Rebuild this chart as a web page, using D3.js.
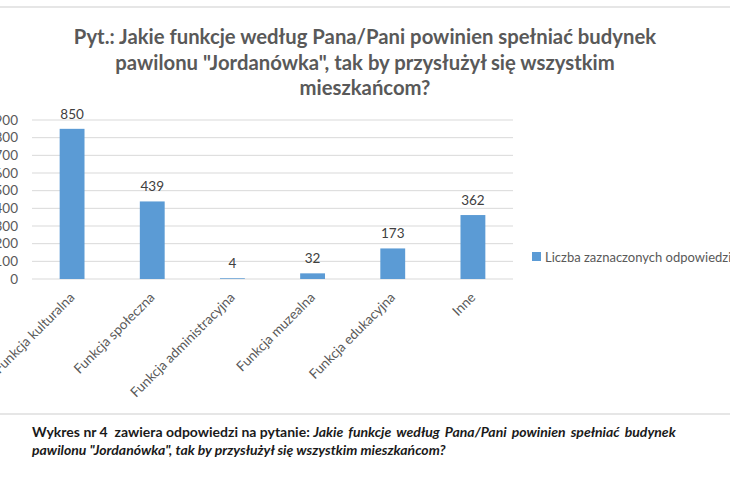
<!DOCTYPE html>
<html>
<head>
<meta charset="utf-8">
<script src="https://cdn.jsdelivr.net/npm/d3@7"></script>
<style>
  body { margin: 0; background: #fff; }
  svg { display: block; }
</style>
</head>
<body>
<div id="chart"></div>
<script>
// data
var categories = ["Funkcja kulturalna", "Funkcja społeczna", "Funkcja administracyjna",
                  "Funkcja muzealna", "Funkcja edukacyjna", "Inne"];
var answers = [850, 439, 4, 32, 173, 362];
var yTicks = [0, 100, 200, 300, 400, 500, 600, 700, 800, 900];
var seriesName = "Liczba zaznaczonych odpowiedzi";
var titleLines = ["Pyt.: Jakie funkcje według Pana/Pani powinien spełniać budynek",
                  "pawilonu \"Jordanówka\", tak by przysłużył się wszystkim",
                  "mieszkańcom?"];

var svgWidth = 730;
var svgHeight = 480;
var plot = { left: 32, right: 513, top: 120, bottom: 279 };
var font = "Lato, 'Open Sans', sans-serif";
var barColor = "#5b9bd5";
var textColor = "#595959";

var svg = d3.select("#chart")
  .append("svg")
  .attr("width", svgWidth)
  .attr("height", svgHeight);

// page separators
svg.append("rect").attr("x", 0).attr("y", 6).attr("width", svgWidth).attr("height", 2).attr("fill", "#e6e6e6");
svg.append("rect").attr("x", 0).attr("y", 413).attr("width", svgWidth).attr("height", 2).attr("fill", "#e6e6e6");

// title
svg.append("g").selectAll("text")
  .data(titleLines)
  .enter()
  .append("text")
  .attr("x", 365)
  .attr("y", (d, i) => 44 + i * 25.5)
  .attr("text-anchor", "middle")
  .attr("font-family", font)
  .attr("font-weight", "bold")
  .attr("font-size", "20.3px")
  .attr("fill", textColor)
  .text(d => d);

// scales
var x = d3.scaleBand()
  .domain(categories)
  .range([plot.left, plot.right])
  .paddingInner(0.69)
  .paddingOuter(0.345);

var y = d3.scaleLinear()
  .domain([0, 900])
  .range([plot.bottom, plot.top]);

// grid
svg.append("g").selectAll("line")
  .data(yTicks)
  .enter()
  .append("line")
  .attr("x1", plot.left)
  .attr("x2", plot.right)
  .attr("y1", d => y(d))
  .attr("y2", d => y(d))
  .attr("stroke", "#d9d9d9")
  .attr("stroke-width", 1);

// y axis labels
var yAxis = d3.axisLeft(y).tickValues(yTicks).tickSize(0).tickPadding(0);
var yg = svg.append("g")
  .attr("transform", `translate(${plot.left - 14}, 0)`)
  .call(yAxis);
yg.select(".domain").remove();
yg.selectAll("text")
  .attr("font-family", font)
  .attr("font-size", "13.5px")
  .attr("fill", textColor);

// bars
svg.append("g").selectAll("rect")
  .data(answers)
  .enter()
  .append("rect")
  .attr("x", (d, i) => x(categories[i]))
  .attr("y", d => y(d))
  .attr("width", x.bandwidth())
  .attr("height", d => y(0) - y(d))
  .attr("fill", barColor);

// value labels
svg.append("g").selectAll("text")
  .data(answers)
  .enter()
  .append("text")
  .attr("x", (d, i) => x(categories[i]) + x.bandwidth() / 2)
  .attr("y", d => y(d) - 10)
  .attr("text-anchor", "middle")
  .attr("font-family", font)
  .attr("font-size", "13.5px")
  .attr("fill", "#404040")
  .text(d => d);

// x axis labels
var xAxis = d3.axisBottom(x).tickSize(0).tickPadding(0);
var xg = svg.append("g")
  .attr("transform", `translate(0, ${plot.bottom})`)
  .call(xAxis);
xg.select(".domain").remove();
xg.selectAll("text")
  .attr("font-family", font)
  .attr("font-size", "13.5px")
  .attr("fill", textColor)
  .attr("text-anchor", "end")
  .attr("dy", "0.35em")
  .attr("transform", "translate(0, 16) rotate(-45)");

// legend
svg.append("rect")
  .attr("x", 532)
  .attr("y", 252)
  .attr("width", 9)
  .attr("height", 9)
  .attr("fill", barColor);
svg.append("text")
  .attr("x", 545)
  .attr("y", 261.5)
  .attr("font-family", font)
  .attr("font-size", "13px")
  .attr("fill", textColor)
  .text(seriesName);

// caption below the chart
var caption = svg.append("g")
  .attr("font-family", font)
  .attr("font-size", "14px")
  .attr("fill", "#1a1a1a");
var line1 = caption.append("text").attr("x", 32).attr("y", 437);
line1.append("tspan").attr("font-weight", "bold").text("Wykres nr 4\u00a0 zawiera odpowiedzi na pytanie: ");
line1.append("tspan").attr("font-weight", "bold").attr("font-style", "italic")
  .attr("word-spacing", "2px")
  .text("Jakie funkcje według Pana/Pani powinien spełniać budynek");
caption.append("text").attr("x", 32).attr("y", 455)
  .attr("font-weight", "bold").attr("font-style", "italic")
  .text("pawilonu \"Jordanówka\", tak by przysłużył się wszystkim mieszkańcom?");
</script>
</body>
</html>
